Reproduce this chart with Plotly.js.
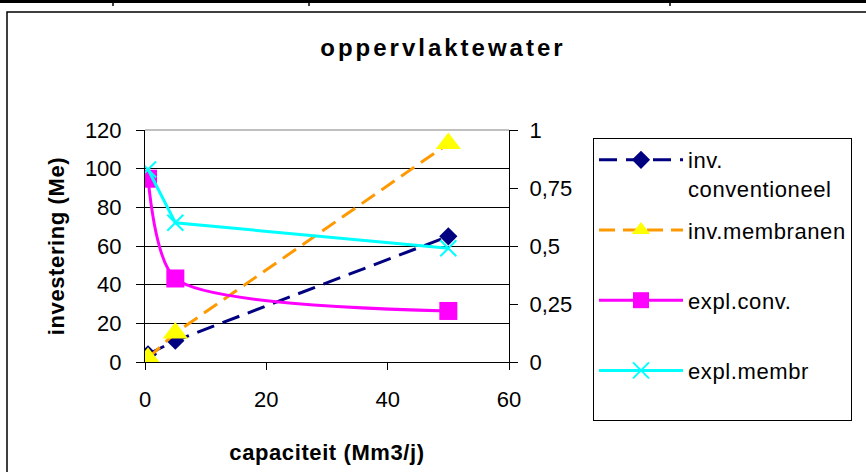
<!DOCTYPE html>
<html>
<head>
<meta charset="utf-8">
<script src="https://cdn.plot.ly/plotly-3.0.1.min.js"></script>
<style>
  html, body { margin: 0; padding: 0; background: #fff; }
  #chart { width: 866px; height: 472px; }
  .gtitle { letter-spacing: 3px; }
  .legendtext { letter-spacing: 0.6px; }
  .xtitle, .ytitle { letter-spacing: 0.6px; }
</style>
</head>
<body>
<div id="chart"></div>
<script>
// capacity (Mm3/j) on the x axis
const capaciteit = [0.5, 5, 50];
// investment (Me), left axis
const invConventioneel = [4, 11, 65];
const invMembranen = [2, 15, 113];
// operating cost, right axis
const explConv = [0.79, 0.36, 0.22];
const explMembr = [0.83, 0.6, 0.49];

const seriesNames = ['inv.<br>conventioneel', 'inv.membranen<br> ', 'expl.conv.<br> ', 'expl.membr<br> '];
const xTicks = [0, 20, 40, 60];
const yTicks = [0, 20, 40, 60, 80, 100, 120];
const y2Ticks = [0, 0.25, 0.5, 0.75, 1];

const FONT = 'Liberation Sans, Arial, sans-serif';

const traces = [
  {
    x: capaciteit, y: invConventioneel, name: seriesNames[0], legendgroup: 'a',
    type: 'scatter', mode: 'lines+markers', yaxis: 'y',
    line: {color: '#000080', width: 3, dash: '18px,9px'},
    marker: {symbol: 'diamond', size: 14, color: '#000080'}
  },
  {
    x: capaciteit, y: invMembranen, name: seriesNames[1], legendgroup: 'b',
    type: 'scatter', mode: 'lines+markers', yaxis: 'y',
    line: {color: '#FF9900', width: 3, dash: '16px,8px'},
    marker: {symbol: 'triangle-up', size: 22, color: '#FFFF00'}
  },
  {
    x: capaciteit, y: explConv, name: seriesNames[2], legendgroup: 'c',
    type: 'scatter', mode: 'lines+markers', yaxis: 'y2',
    line: {color: '#FF00FF', width: 3, shape: 'spline', smoothing: 0.7},
    marker: {symbol: 'square', size: 18, color: '#FF00FF'}
  },
  {
    x: capaciteit, y: explMembr, name: seriesNames[3], legendgroup: 'd',
    type: 'scatter', mode: 'lines+markers', yaxis: 'y2',
    line: {color: '#00FFFF', width: 3},
    marker: {symbol: 'x-thin', size: 16, color: '#00FFFF', line: {color: '#00FFFF', width: 2}}
  }
];

// paper-coordinate helpers for the frame around the chart (plot area 145..509 x 130..362 px)
const px = v => (v - 145) / 364;
const py = v => (362 - v) / 232;

const layout = {
  width: 866, height: 472,
  margin: {l: 145, r: 357, t: 130, b: 110},
  paper_bgcolor: '#fff', plot_bgcolor: '#fff',
  font: {family: FONT, color: '#000', size: 22},
  separators: ',.',
  title: {
    text: 'oppervlaktewater',
    font: {family: FONT, size: 24, weight: 'bold', color: '#000'},
    xref: 'container', x: 0.5115, xanchor: 'center',
    yref: 'container', y: 0.9, yanchor: 'middle'
  },
  xaxis: {
    range: [0, 60], tickvals: xTicks, ticks: 'outside', ticklen: 7, tickcolor: '#000',
    showline: true, linecolor: '#000', linewidth: 1, showgrid: false, zeroline: false,
    tickfont: {family: FONT, size: 22}, ticklabelstandoff: 11,
    title: {text: 'capaciteit (Mm3/j)', font: {family: FONT, size: 22, weight: 'bold'}, standoff: 33}
  },
  yaxis: {
    range: [0, 120], tickvals: yTicks, ticks: 'outside', ticklen: 8, tickcolor: '#000',
    showline: true, linecolor: '#000', linewidth: 1, showgrid: true, gridcolor: '#000', gridwidth: 1,
    zeroline: false, tickfont: {family: FONT, size: 22}, ticklabelstandoff: 10,
    title: {text: 'investering (Me)', font: {family: FONT, size: 22, weight: 'bold'}, standoff: 14}
  },
  yaxis2: {
    range: [0, 1], tickvals: y2Ticks, overlaying: 'y', side: 'right', anchor: 'x',
    ticks: 'outside', ticklen: 8, tickcolor: '#000',
    showline: true, linecolor: '#000', linewidth: 1, showgrid: false, zeroline: false,
    tickfont: {family: FONT, size: 22}, ticklabelstandoff: 7
  },
  legend: {
    x: px(593), xanchor: 'left', y: py(138), yanchor: 'top',
    bordercolor: '#000', borderwidth: 1, bgcolor: '#fff', maxheight: 460,
    font: {family: FONT, size: 22}, tracegroupgap: 10, valign: 'top', itemwidth: 84
  },
  shapes: [
    // chart frame
    {type: 'rect', xref: 'paper', yref: 'paper', x0: px(7), x1: 3, y0: -3, y1: py(12),
     line: {color: '#000', width: 1.5}, fillcolor: 'rgba(0,0,0,0)'},
    // top border of plot area
    {type: 'line', xref: 'paper', yref: 'paper', x0: 0, x1: 1, y0: 1, y1: 1,
     line: {color: '#808080', width: 1}},
    // heavy rule along the top edge
    {type: 'line', xref: 'paper', yref: 'paper', x0: -1, x1: 2, y0: py(1.5), y1: py(1.5),
     line: {color: '#000', width: 3}},
    {type: 'line', xref: 'paper', yref: 'paper', x0: px(113), x1: px(113), y0: py(0), y1: py(6),
     line: {color: '#000', width: 1.5}},
    {type: 'line', xref: 'paper', yref: 'paper', x0: px(309), x1: px(309), y0: py(0), y1: py(6),
     line: {color: '#000', width: 1.5}},
    {type: 'line', xref: 'paper', yref: 'paper', x0: px(670), x1: px(670), y0: py(0), y1: py(6),
     line: {color: '#000', width: 1.5}}
  ]
};

Plotly.newPlot('chart', traces, layout, {displayModeBar: false, staticPlot: true});
</script>
</body>
</html>
